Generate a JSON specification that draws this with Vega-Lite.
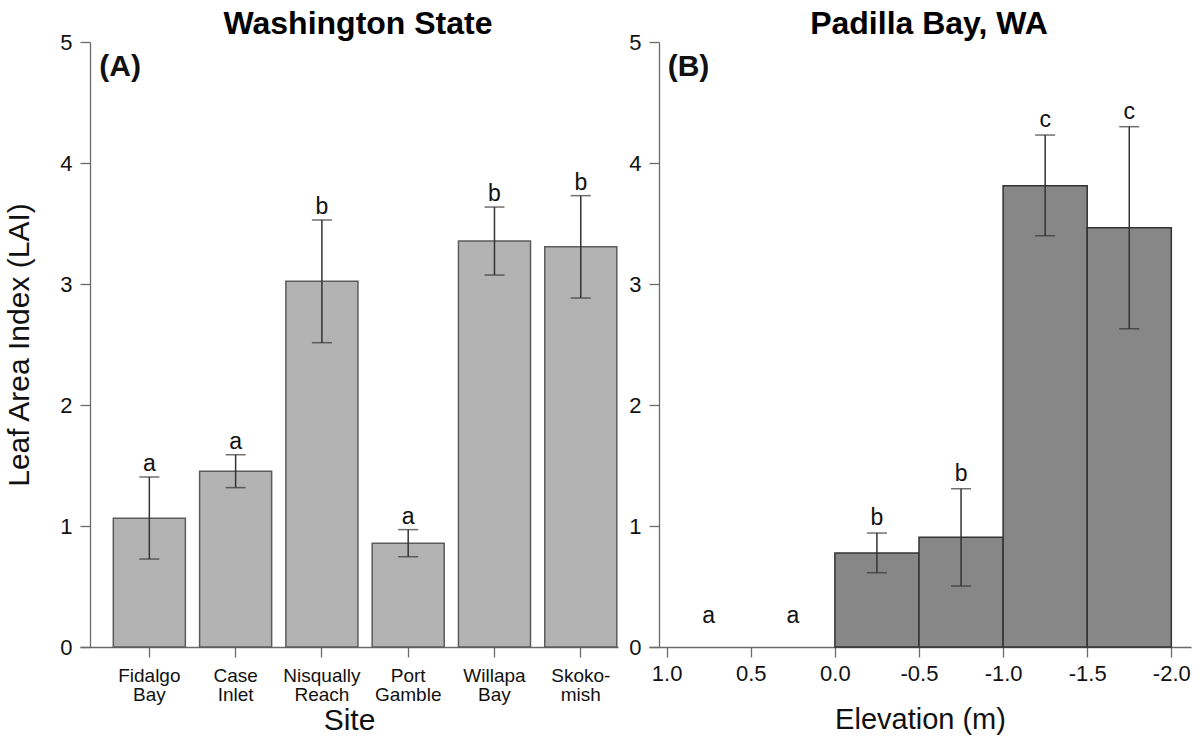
{
  "$schema": "https://vega.github.io/schema/vega-lite/v6.json",
  "background": "white",
  "padding": {"left": 4, "top": 8, "right": 5, "bottom": 5},
  "bounds": "flush",
  "spacing": 31,
  "config": {
    "font": "Liberation Sans",
    "view": {"stroke": null},
    "axis": {
      "grid": false,
      "domainColor": "#6b6b6b",
      "tickColor": "#6b6b6b",
      "domainWidth": 1.3,
      "tickWidth": 1.3,
      "tickSize": 10,
      "labelColor": "#111111",
      "titleColor": "#111111",
      "labelFont": "Liberation Sans",
      "titleFont": "Liberation Sans",
      "titleFontWeight": "normal"
    },
    "title": {"font": "Liberation Sans", "fontSize": 32, "fontWeight": "bold", "color": "#000000"}
  },
  "hconcat": [
    {
      "width": 538,
      "height": 605,
      "title": {"text": "Washington State", "frame": "group", "anchor": "middle", "dx": 9, "offset": -10},
      "data": {
        "values": [
          {"site": "Fidalgo|Bay", "LAI": 1.064, "lower": 0.727, "upper": 1.405, "letter": "a"},
          {"site": "Case|Inlet", "LAI": 1.452, "lower": 1.317, "upper": 1.589, "letter": "a"},
          {"site": "Nisqually|Reach", "LAI": 3.022, "lower": 2.515, "upper": 3.529, "letter": "b"},
          {"site": "Port|Gamble", "LAI": 0.857, "lower": 0.746, "upper": 0.970, "letter": "a"},
          {"site": "Willapa|Bay", "LAI": 3.355, "lower": 3.074, "upper": 3.636, "letter": "b"},
          {"site": "Skoko-|mish", "LAI": 3.308, "lower": 2.884, "upper": 3.730, "letter": "b"}
        ]
      },
      "layer": [
        {
          "mark": {"type": "bar", "fill": "#b3b3b3", "stroke": "#5c5c5c", "strokeWidth": 1.5},
          "encoding": {
            "x": {
              "field": "site", "type": "nominal", "sort": null,
              "scale": {"paddingInner": 0.165, "paddingOuter": 0.2, "align": 0.965},
              "axis": {
                "title": "Site", "labelAngle": 0, "labelExpr": "split(datum.label, '|')",
                "labelFontSize": 19, "labelLineHeight": 19, "labelPadding": 9,
                "titleFontSize": 30, "titlePadding": 1
              }
            },
            "y": {
              "field": "LAI", "type": "quantitative",
              "scale": {"domain": [0, 5], "nice": false, "zero": true},
              "axis": {
                "title": "Leaf Area Index (LAI)", "values": [0, 1, 2, 3, 4, 5], "format": "d",
                "offset": -10, "labelFontSize": 22, "labelPadding": 8,
                "titleFontSize": 30, "titlePadding": 25
              }
            }
          }
        },
        {
          "mark": {"type": "rule", "color": "#333333", "strokeWidth": 1.5},
          "encoding": {
            "x": {"field": "site", "type": "nominal", "sort": null, "title": "Site"},
            "y": {"field": "lower", "type": "quantitative", "title": "Leaf Area Index (LAI)"},
            "y2": {"field": "upper"}
          }
        },
        {
          "mark": {"type": "tick", "orient": "horizontal", "size": 20, "thickness": 1.5, "color": "#333333"},
          "encoding": {
            "x": {"field": "site", "type": "nominal", "sort": null, "title": "Site"},
            "y": {"field": "upper", "type": "quantitative", "title": "Leaf Area Index (LAI)"}
          }
        },
        {
          "mark": {"type": "tick", "orient": "horizontal", "size": 20, "thickness": 1.5, "color": "#333333"},
          "encoding": {
            "x": {"field": "site", "type": "nominal", "sort": null, "title": "Site"},
            "y": {"field": "lower", "type": "quantitative", "title": "Leaf Area Index (LAI)"}
          }
        },
        {
          "mark": {"type": "text", "fontSize": 23, "baseline": "alphabetic", "dy": -6, "color": "#111111"},
          "encoding": {
            "x": {"field": "site", "type": "nominal", "sort": null, "title": "Site"},
            "y": {"field": "upper", "type": "quantitative", "title": "Leaf Area Index (LAI)"},
            "text": {"field": "letter"}
          }
        },
        {
          "data": {"values": [{"panel": "(A)"}]},
          "mark": {"type": "text", "fontSize": 30, "fontWeight": "bold", "align": "left", "baseline": "alphabetic", "dx": -14, "color": "#111111"},
          "encoding": {
            "x": {"datum": "Fidalgo|Bay", "type": "nominal", "bandPosition": 0},
            "y": {"datum": 4.72, "type": "quantitative"},
            "text": {"field": "panel"}
          }
        }
      ]
    },
    {
      "width": 542,
      "height": 605,
      "title": {"text": "Padilla Bay, WA", "frame": "group", "anchor": "middle", "dx": 9, "offset": -10},
      "data": {
        "values": [
          {"start": 1.0, "end": 0.5, "mid": 0.75, "LAI": 0, "lower": 0, "upper": 0, "letter": "a"},
          {"start": 0.5, "end": 0.0, "mid": 0.25, "LAI": 0, "lower": 0, "upper": 0, "letter": "a"},
          {"start": 0.0, "end": -0.5, "mid": -0.25, "LAI": 0.777, "lower": 0.614, "upper": 0.942, "letter": "b"},
          {"start": -0.5, "end": -1.0, "mid": -0.75, "LAI": 0.906, "lower": 0.504, "upper": 1.308, "letter": "b"},
          {"start": -1.0, "end": -1.5, "mid": -1.25, "LAI": 3.812, "lower": 3.399, "upper": 4.231, "letter": "c"},
          {"start": -1.5, "end": -2.0, "mid": -1.75, "LAI": 3.465, "lower": 2.63, "upper": 4.300, "letter": "c"}
        ]
      },
      "layer": [
        {
          "transform": [{"filter": "datum.LAI > 0"}],
          "mark": {"type": "rect", "fill": "#878787", "stroke": "#333333", "strokeWidth": 1.5},
          "encoding": {
            "x": {
              "field": "start", "type": "quantitative",
              "scale": {"domain": [1.105, -2.117], "nice": false, "zero": false},
              "axis": {
                "title": "Elevation (m)", "values": [1, 0.5, 0, -0.5, -1, -1.5, -2],
                "labelExpr": "(datum.value < 0 ? '-' : '') + format(abs(datum.value), '.1f')",
                "labelFontSize": 22, "labelPadding": 6, "titleFontSize": 29, "titlePadding": 21
              }
            },
            "x2": {"field": "end"},
            "y": {
              "field": "LAI", "type": "quantitative",
              "scale": {"domain": [0, 5], "nice": false, "zero": true},
              "axis": {
                "title": null, "values": [0, 1, 2, 3, 4, 5], "format": "d",
                "offset": -10, "labelFontSize": 22, "labelPadding": 8
              }
            },
            "y2": {"datum": 0}
          }
        },
        {
          "transform": [{"filter": "datum.LAI > 0"}],
          "mark": {"type": "rule", "color": "#333333", "strokeWidth": 1.5},
          "encoding": {
            "x": {"field": "mid", "type": "quantitative", "title": "Elevation (m)"},
            "y": {"field": "lower", "type": "quantitative", "title": null},
            "y2": {"field": "upper"}
          }
        },
        {
          "transform": [{"filter": "datum.LAI > 0"}],
          "mark": {"type": "tick", "orient": "horizontal", "size": 20, "thickness": 1.5, "color": "#333333"},
          "encoding": {
            "x": {"field": "mid", "type": "quantitative", "title": "Elevation (m)"},
            "y": {"field": "upper", "type": "quantitative", "title": null}
          }
        },
        {
          "transform": [{"filter": "datum.LAI > 0"}],
          "mark": {"type": "tick", "orient": "horizontal", "size": 20, "thickness": 1.5, "color": "#333333"},
          "encoding": {
            "x": {"field": "mid", "type": "quantitative", "title": "Elevation (m)"},
            "y": {"field": "lower", "type": "quantitative", "title": null}
          }
        },
        {
          "transform": [{"filter": "datum.upper > 0"}],
          "mark": {"type": "text", "fontSize": 23, "baseline": "alphabetic", "dy": -8, "color": "#111111"},
          "encoding": {
            "x": {"field": "mid", "type": "quantitative", "title": "Elevation (m)"},
            "y": {"field": "upper", "type": "quantitative", "title": null},
            "text": {"field": "letter"}
          }
        },
        {
          "transform": [{"filter": "datum.upper == 0"}],
          "mark": {"type": "text", "fontSize": 23, "baseline": "alphabetic", "dy": -24, "color": "#111111"},
          "encoding": {
            "x": {"field": "mid", "type": "quantitative", "title": "Elevation (m)"},
            "y": {"field": "upper", "type": "quantitative", "title": null},
            "text": {"field": "letter"}
          }
        },
        {
          "data": {"values": [{"panel": "(B)"}]},
          "mark": {"type": "text", "fontSize": 30, "fontWeight": "bold", "align": "left", "baseline": "alphabetic", "dx": 1, "color": "#111111"},
          "encoding": {
            "x": {"datum": 1.0, "type": "quantitative"},
            "y": {"datum": 4.72, "type": "quantitative"},
            "text": {"field": "panel"}
          }
        }
      ]
    }
  ]
}
